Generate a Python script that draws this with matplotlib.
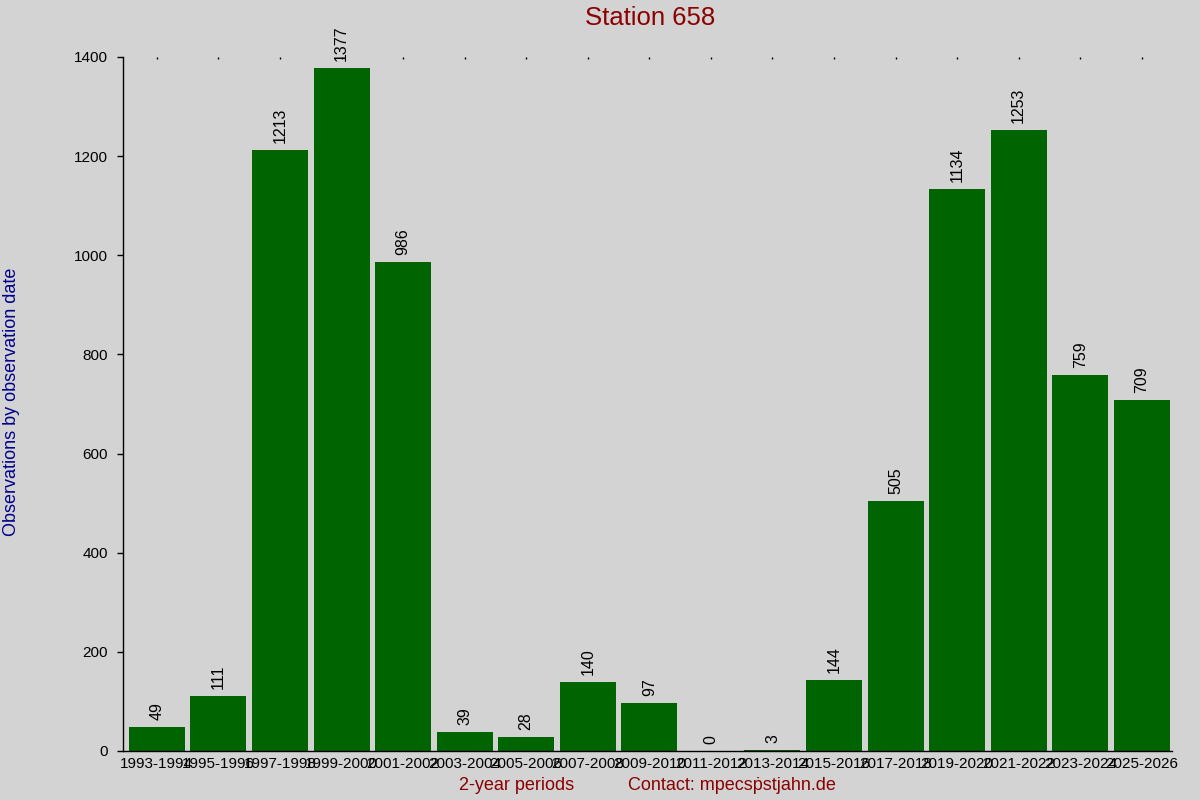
import matplotlib
matplotlib.use("Agg")
import matplotlib.pyplot as plt

periods = ["1993-1994", "1995-1996", "1997-1998", "1999-2000", "2001-2002",
           "2003-2004", "2005-2006", "2007-2008", "2009-2010", "2011-2012",
           "2013-2014", "2015-2016", "2017-2018", "2019-2020", "2021-2022",
           "2023-2024", "2025-2026"]
counts = [49, 111, 1213, 1377, 986, 39, 28, 140, 97, 0, 3, 144, 505, 1134, 1253, 759, 709]
yticks = [0, 200, 400, 600, 800, 1000, 1200, 1400]

title = "Station 658"
xlabel = "2-year periods"
contact = "Contact: mpecs\u1e57stjahn.de"
ylabel = "Observations by observation date"

plt.rcParams['font.family'] = ['Liberation Sans', 'DejaVu Sans']
bg = "#d3d3d3"
fig = plt.figure(figsize=(12, 8), dpi=100, facecolor=bg)
ax = fig.add_axes([123/1200, 1-751/800, (1172-123)/1200, (751-57)/800])
ax.set_facecolor(bg)

x = list(range(len(periods)))
ax.bar(x, counts, width=0.91, color="#006400")
for xi, v in zip(x, counts):
    ax.annotate(str(v), (xi, v), xytext=(0, 5), textcoords="offset points",
                rotation=90, ha="center", va="bottom", fontsize=11.5, color="black")

ax.set_xlim(-0.55, len(periods) - 0.51)
ax.set_ylim(0, 1400)
ax.set_yticks(yticks)
ax.set_yticklabels([str(t) for t in yticks], fontsize=11)
ax.set_xticks(x)
ax.set_xticklabels(periods, fontsize=11)
ax.tick_params(axis='x', length=0, pad=4)
ax.tick_params(axis='y', length=4, width=1, pad=7)
for s in ['top', 'right']:
    ax.spines[s].set_visible(False)
ax.spines['left'].set_linewidth(1)
ax.spines['bottom'].set_linewidth(1)

sec = ax.secondary_xaxis('top')
sec.set_xticks(x)
sec.set_xticklabels([])
sec.tick_params(direction='in', length=1.2, width=1)
sec.spines['top'].set_visible(False)

fig.text(650/1200, 1-18/800, title, ha="center", va="center", fontsize=18.5, color="#8b0000")
fig.text(517/1200, 1-786/800, xlabel, ha="center", va="center", fontsize=13, color="#8b0000")
fig.text(732/1200, 1-786/800, contact, ha="center", va="center", fontsize=13, color="#8b0000")
fig.text(12/1200, 1-402/800, ylabel, ha="center", va="center", rotation=90, fontsize=13, color="#00008b")

fig.savefig("out.png", dpi=100, facecolor=bg)
